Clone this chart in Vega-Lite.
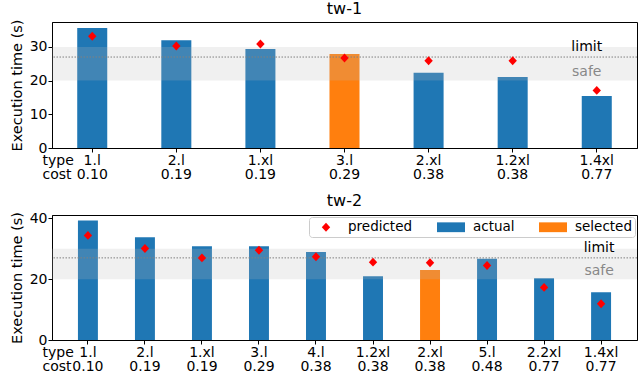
{
  "$schema": "https://vega.github.io/schema/vega-lite/v6.json",
  "padding": {"left": 8, "top": 0, "right": 5, "bottom": 0},
  "config": {
    "font": "DejaVu Sans",
    "view": {"stroke": "black", "strokeWidth": 1},
    "axis": {"grid": false, "domainColor": "black", "tickColor": "black", "labelColor": "black", "titleColor": "black", "labelFontSize": 14, "titleFontSize": 14.5, "titleFontWeight": "normal", "tickSize": 4, "labelPadding": 1, "labelFont": "DejaVu Sans", "titleFont": "DejaVu Sans"},
    "title": {"fontSize": 16, "fontWeight": "normal", "anchor": "middle", "offset": 2, "font": "DejaVu Sans", "color": "black"},
    "legend": {"orient": "top-right", "offset": 2, "direction": "horizontal", "padding": 3, "strokeColor": "#cccccc", "fillColor": "rgba(255,255,255,0.8)", "cornerRadius": 3, "columnPadding": 24, "labelOffset": 15, "symbolOffset": 7, "labelFontSize": 13.5, "labelFont": "DejaVu Sans", "labelColor": "black", "symbolSize": 196, "symbolStrokeWidth": 0, "symbolOpacity": 1},
    "concat": {"spacing": 10}
  },
  "datasets": {
    "tw1": [
      {"label": "1.l|0.10", "series": "actual", "value": 35.6},
      {"label": "1.l|0.10", "series": "predicted", "value": 33.2},
      {"label": "2.l|0.19", "series": "actual", "value": 32.0},
      {"label": "2.l|0.19", "series": "predicted", "value": 30.3},
      {"label": "1.xl|0.19", "series": "actual", "value": 29.4},
      {"label": "1.xl|0.19", "series": "predicted", "value": 30.9},
      {"label": "3.l|0.29", "series": "selected", "value": 27.9},
      {"label": "3.l|0.29", "series": "predicted", "value": 26.7},
      {"label": "2.xl|0.38", "series": "actual", "value": 22.3},
      {"label": "2.xl|0.38", "series": "predicted", "value": 25.9},
      {"label": "1.2xl|0.38", "series": "actual", "value": 21.1},
      {"label": "1.2xl|0.38", "series": "predicted", "value": 25.9},
      {"label": "1.4xl|0.77", "series": "actual", "value": 15.4},
      {"label": "1.4xl|0.77", "series": "predicted", "value": 17.1}
    ],
    "tw2": [
      {"label": "1.l|0.10", "series": "actual", "value": 39.3},
      {"label": "1.l|0.10", "series": "predicted", "value": 34.4},
      {"label": "2.l|0.19", "series": "actual", "value": 33.8},
      {"label": "2.l|0.19", "series": "predicted", "value": 30.1},
      {"label": "1.xl|0.19", "series": "actual", "value": 30.8},
      {"label": "1.xl|0.19", "series": "predicted", "value": 27.0},
      {"label": "3.l|0.29", "series": "actual", "value": 30.8},
      {"label": "3.l|0.29", "series": "predicted", "value": 29.5},
      {"label": "4.l|0.38", "series": "actual", "value": 28.9},
      {"label": "4.l|0.38", "series": "predicted", "value": 27.4},
      {"label": "1.2xl|0.38", "series": "actual", "value": 21.0},
      {"label": "1.2xl|0.38", "series": "predicted", "value": 25.6},
      {"label": "2.xl|0.38", "series": "selected", "value": 23.0},
      {"label": "2.xl|0.38", "series": "predicted", "value": 25.4},
      {"label": "5.l|0.48", "series": "actual", "value": 26.7},
      {"label": "5.l|0.48", "series": "predicted", "value": 24.5},
      {"label": "2.2xl|0.77", "series": "actual", "value": 20.3},
      {"label": "2.2xl|0.77", "series": "predicted", "value": 17.3},
      {"label": "1.4xl|0.77", "series": "actual", "value": 15.7},
      {"label": "1.4xl|0.77", "series": "predicted", "value": 11.9}
    ],
    "ref": [{"safe_lo": 20, "safe_hi": 30, "limit": 27}]
  },
  "vconcat": [
    {
      "title": "tw-1",
      "width": 585,
      "height": 126,
      "layer": [
        {
          "data": {"name": "tw1"},
          "transform": [{"filter": "datum.series !== 'predicted'"}],
          "mark": {"type": "bar"},
          "encoding": {
            "x": {"field": "label", "type": "nominal", "sort": null, "scale": {"paddingInner": 0.643, "paddingOuter": 0.3},
              "axis": {"labelAngle": 0, "labelExpr": "split(datum.value, '|')", "labelLineHeight": 14.5, "labelBaseline": "top", "title": ["type", "cost"], "titleX": -10, "titleY": 5, "titleAlign": "left", "titleBaseline": "top", "titleAngle": 0, "titleLineHeight": 14.5, "titleFontSize": 14}},
            "y": {"field": "value", "type": "quantitative", "scale": {"domain": [0, 37.4], "nice": false}, "title": "Execution time (s)", "axis": {"values": [0, 10, 20, 30], "titlePadding": 5}},
            "color": {"field": "series", "type": "nominal", "scale": {"domain": ["predicted", "actual", "selected"], "range": ["#ff0000", "#1f77b4", "#ff7f0e"]}, "legend": null}
          }
        },
        {
          "data": {"name": "ref"},
          "mark": {"type": "rect", "color": "#bbbbbb", "opacity": 0.22},
          "encoding": {
            "y": {"field": "safe_lo", "type": "quantitative", "title": "Execution time (s)"},
            "y2": {"field": "safe_hi"}
          }
        },
        {
          "data": {"name": "ref"},
          "mark": {"type": "rule", "color": "#808080", "strokeDash": [1.5, 1.5], "strokeWidth": 1},
          "encoding": {"y": {"field": "limit", "type": "quantitative", "title": "Execution time (s)"}}
        },
        {
          "data": {"name": "tw1"},
          "transform": [{"filter": "datum.series === 'predicted'"}],
          "mark": {"type": "point", "filled": true, "size": 196, "opacity": 1},
          "encoding": {
            "x": {"field": "label", "type": "nominal", "sort": null},
            "y": {"field": "value", "type": "quantitative", "title": "Execution time (s)"},
            "color": {"field": "series", "type": "nominal", "legend": null},
            "shape": {"field": "series", "type": "nominal", "scale": {"domain": ["predicted", "actual", "selected"], "range": ["M0,-0.64L0.6,0L0,0.64L-0.6,0Z", "M-2,-0.7H2V0.7H-2Z", "M-2,-0.7H2V0.7H-2Z"]}, "legend": null}
          }
        },
        {
          "data": {"name": "ref"},
          "mark": {"type": "text", "text": "limit", "fontSize": 14, "color": "black", "baseline": "bottom", "dy": -3, "dx": -10},
          "encoding": {
            "x": {"datum": "1.4xl|0.77", "type": "nominal"},
            "y": {"field": "limit", "type": "quantitative", "title": "Execution time (s)"}
          }
        },
        {
          "data": {"name": "ref"},
          "mark": {"type": "text", "text": "safe", "fontSize": 14, "color": "#888888", "baseline": "middle", "dy": -9, "dx": -10},
          "encoding": {
            "x": {"datum": "1.4xl|0.77", "type": "nominal"},
            "y": {"field": "safe_lo", "type": "quantitative", "title": "Execution time (s)"}
          }
        }
      ]
    },
    {
      "title": "tw-2",
      "width": 585,
      "height": 125,
      "layer": [
        {
          "data": {"name": "tw2"},
          "transform": [{"filter": "datum.series !== 'predicted'"}],
          "mark": {"type": "bar"},
          "encoding": {
            "x": {"field": "label", "type": "nominal", "sort": null, "scale": {"paddingInner": 0.65, "paddingOuter": 0.455},
              "axis": {"labelAngle": 0, "labelExpr": "split(datum.value, '|')", "labelLineHeight": 14.5, "labelBaseline": "top", "title": ["type", "cost"], "titleX": -10, "titleY": 5, "titleAlign": "left", "titleBaseline": "top", "titleAngle": 0, "titleLineHeight": 14.5, "titleFontSize": 14}},
            "y": {"field": "value", "type": "quantitative", "scale": {"domain": [0, 41.1], "nice": false}, "title": "Execution time (s)", "axis": {"values": [0, 20, 40], "titlePadding": 5}},
            "color": {"field": "series", "type": "nominal", "scale": {"domain": ["predicted", "actual", "selected"], "range": ["#ff0000", "#1f77b4", "#ff7f0e"]}, "legend": {"title": null}}
          }
        },
        {
          "data": {"name": "ref"},
          "mark": {"type": "rect", "color": "#bbbbbb", "opacity": 0.22},
          "encoding": {
            "y": {"field": "safe_lo", "type": "quantitative", "title": "Execution time (s)"},
            "y2": {"field": "safe_hi"}
          }
        },
        {
          "data": {"name": "ref"},
          "mark": {"type": "rule", "color": "#808080", "strokeDash": [1.5, 1.5], "strokeWidth": 1},
          "encoding": {"y": {"field": "limit", "type": "quantitative", "title": "Execution time (s)"}}
        },
        {
          "data": {"name": "tw2"},
          "transform": [{"filter": "datum.series === 'predicted'"}],
          "mark": {"type": "point", "filled": true, "size": 196, "opacity": 1},
          "encoding": {
            "x": {"field": "label", "type": "nominal", "sort": null},
            "y": {"field": "value", "type": "quantitative", "title": "Execution time (s)"},
            "color": {"field": "series", "type": "nominal", "legend": {"title": null}},
            "shape": {"field": "series", "type": "nominal", "scale": {"domain": ["predicted", "actual", "selected"], "range": ["M0,-0.64L0.6,0L0,0.64L-0.6,0Z", "M-2,-0.7H2V0.7H-2Z", "M-2,-0.7H2V0.7H-2Z"]}, "legend": {"title": null}}
          }
        },
        {
          "data": {"name": "ref"},
          "mark": {"type": "text", "text": "limit", "fontSize": 14, "color": "black", "baseline": "bottom", "dy": -3, "dx": -2},
          "encoding": {
            "x": {"datum": "1.4xl|0.77", "type": "nominal"},
            "y": {"field": "limit", "type": "quantitative", "title": "Execution time (s)"}
          }
        },
        {
          "data": {"name": "ref"},
          "mark": {"type": "text", "text": "safe", "fontSize": 14, "color": "#888888", "baseline": "middle", "dy": -8, "dx": -2},
          "encoding": {
            "x": {"datum": "1.4xl|0.77", "type": "nominal"},
            "y": {"field": "safe_lo", "type": "quantitative", "title": "Execution time (s)"}
          }
        }
      ]
    }
  ],
  "resolve": {"scale": {"x": "independent", "y": "independent", "color": "independent", "shape": "independent"}}
}
